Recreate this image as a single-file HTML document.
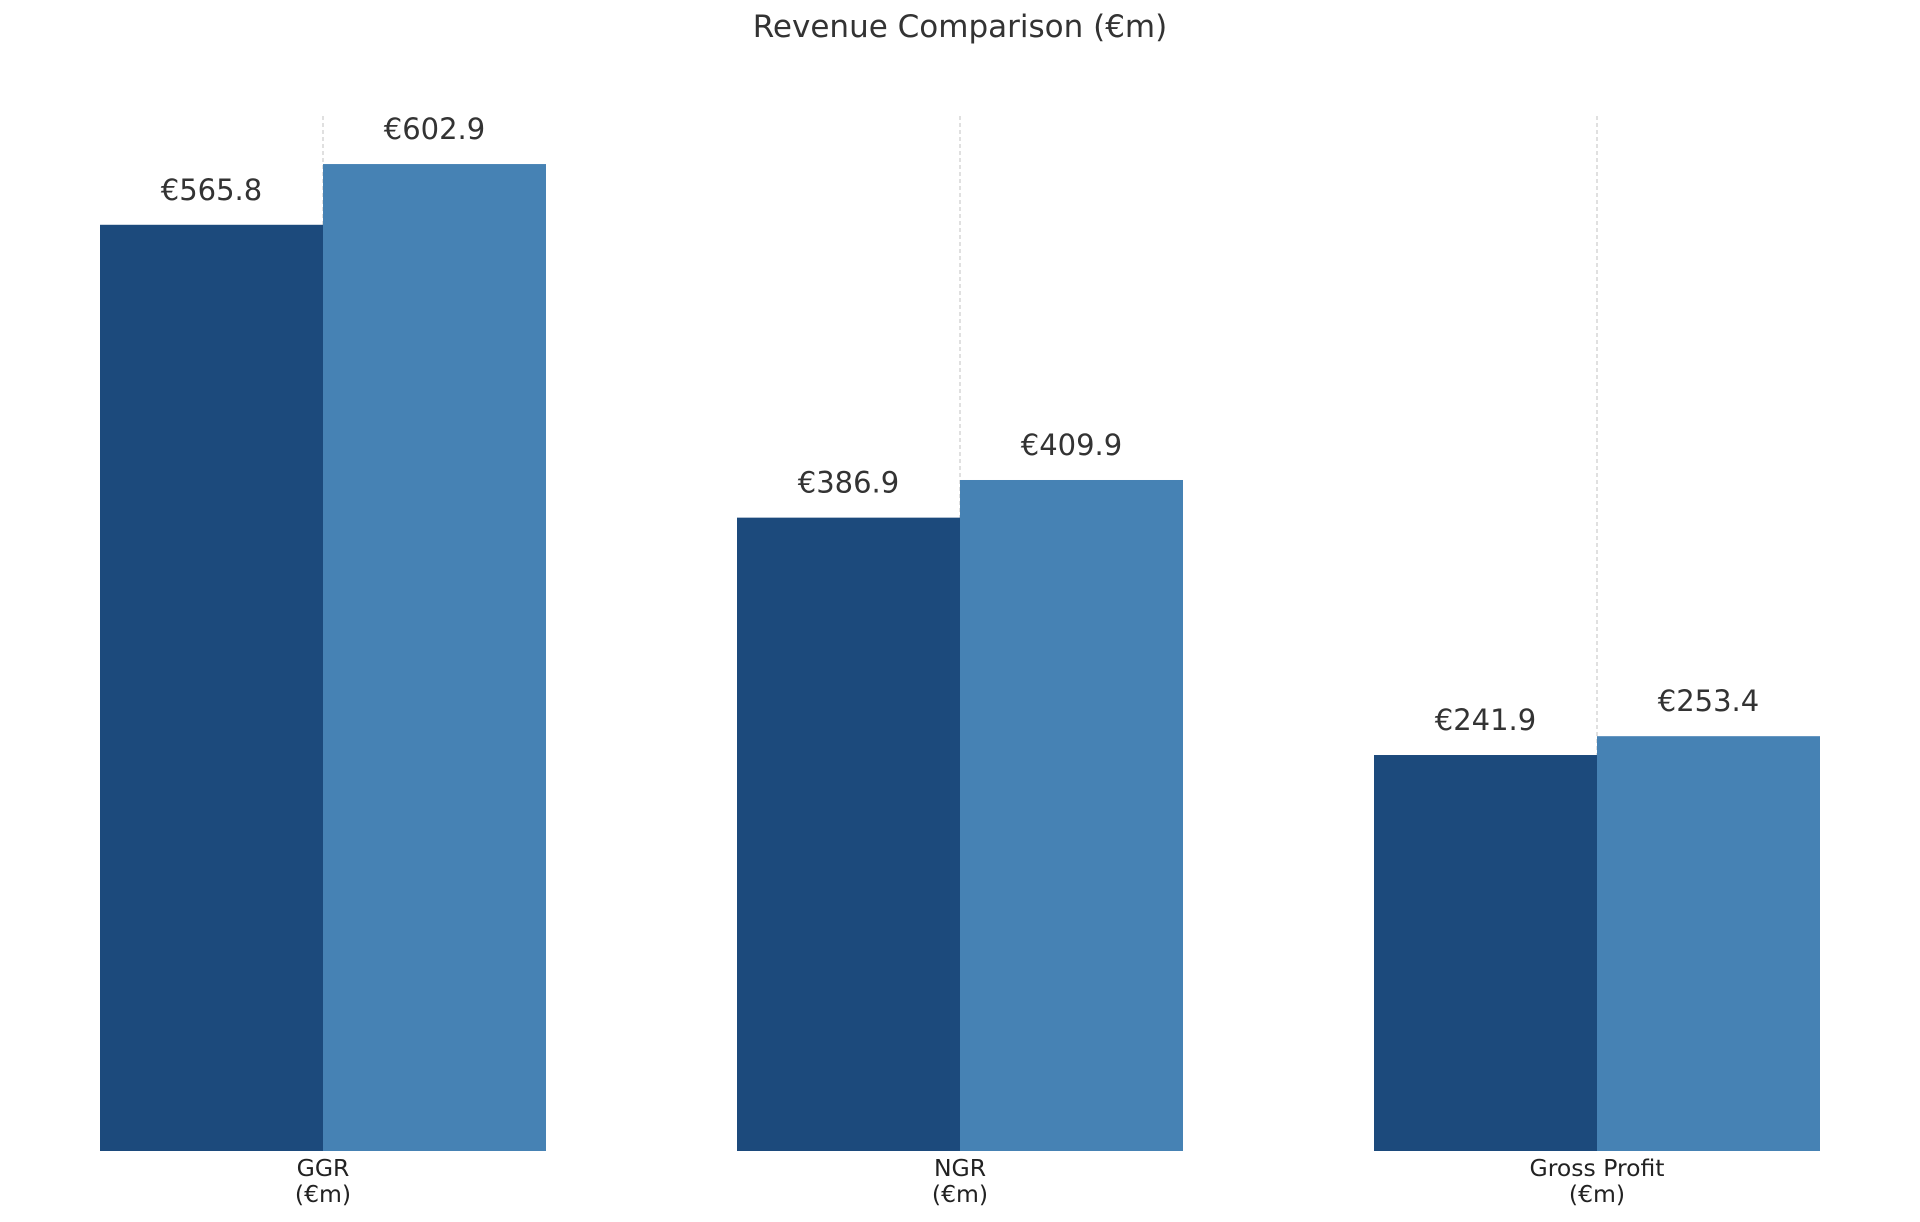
<!DOCTYPE html>
<html><head><meta charset="utf-8"><style>
html,body{margin:0;padding:0;background:#fff;}
svg{display:block;font-family:"DejaVu Sans","Liberation Sans",sans-serif;}
</style></head><body>
<svg id="chart" width="1920" height="1222" viewBox="0 0 1920 1222">
<text x="960" y="37" text-anchor="middle" font-size="31" fill="#333">Revenue Comparison (€m)</text>
<g id="grid"></g><g id="bars"></g><g id="labels"></g><g id="ticks"></g>
</svg>
<script>
const categories = ["GGR", "NGR", "Gross Profit"];
const seriesA = [565.8, 386.9, 241.9];
const seriesB = [602.9, 409.9, 253.4];
const valueLabelsA = ["€565.8", "€386.9", "€241.9"];
const valueLabelsB = ["€602.9", "€409.9", "€253.4"];

const NS = "http://www.w3.org/2000/svg";
const baseY = 1151, pxPerUnit = 1.637;
const x0 = 323, groupStep = 637, barW = 223;
function xCenter(i){ return x0 + i * groupStep; }
function yScale(v){ return baseY - v * pxPerUnit; }
function mk(tag, attrs, parent){ const e = document.createElementNS(NS, tag); for (const k in attrs) e.setAttribute(k, attrs[k]); parent.appendChild(e); return e; }
const gBars = document.getElementById('bars'), gGrid = document.getElementById('grid'), gLab = document.getElementById('labels'), gTick = document.getElementById('ticks');

categories.forEach((c, i) => {
  const cx = xCenter(i);
  const series = [[seriesA[i], valueLabelsA[i], "#1c4a7c", cx - barW, "a"], [seriesB[i], valueLabelsB[i], "#4682b4", cx, "b"]];
  series.forEach(s => {
    const y = yScale(s[0]);
    const r = mk('rect', {x: s[3], y: y, width: barW, height: baseY - y, fill: s[2]}, gBars);
    
    
    const t = mk('text', {x: s[3] + barW / 2, y: y - 25, 'text-anchor': 'middle', 'font-size': 29, fill: '#333'}, gLab);
    t.textContent = s[1];
    
    
  });
  const gl = mk('line', {x1: cx, x2: cx, y1: 116, y2: baseY, stroke: '#cccccc', 'stroke-width': 1.2, 'stroke-dasharray': '4,3'}, gGrid);
  
  
  const t1 = mk('text', {x: cx, y: 1176, 'text-anchor': 'middle', 'font-size': 23.5, fill: '#222'}, gTick);
  t1.textContent = c;
  
  
  const t2 = mk('text', {x: cx, y: 1202, 'text-anchor': 'middle', 'font-size': 23.5, fill: '#222'}, gTick);
  t2.textContent = "(€m)";
  
  
});
</script>
</body></html>
